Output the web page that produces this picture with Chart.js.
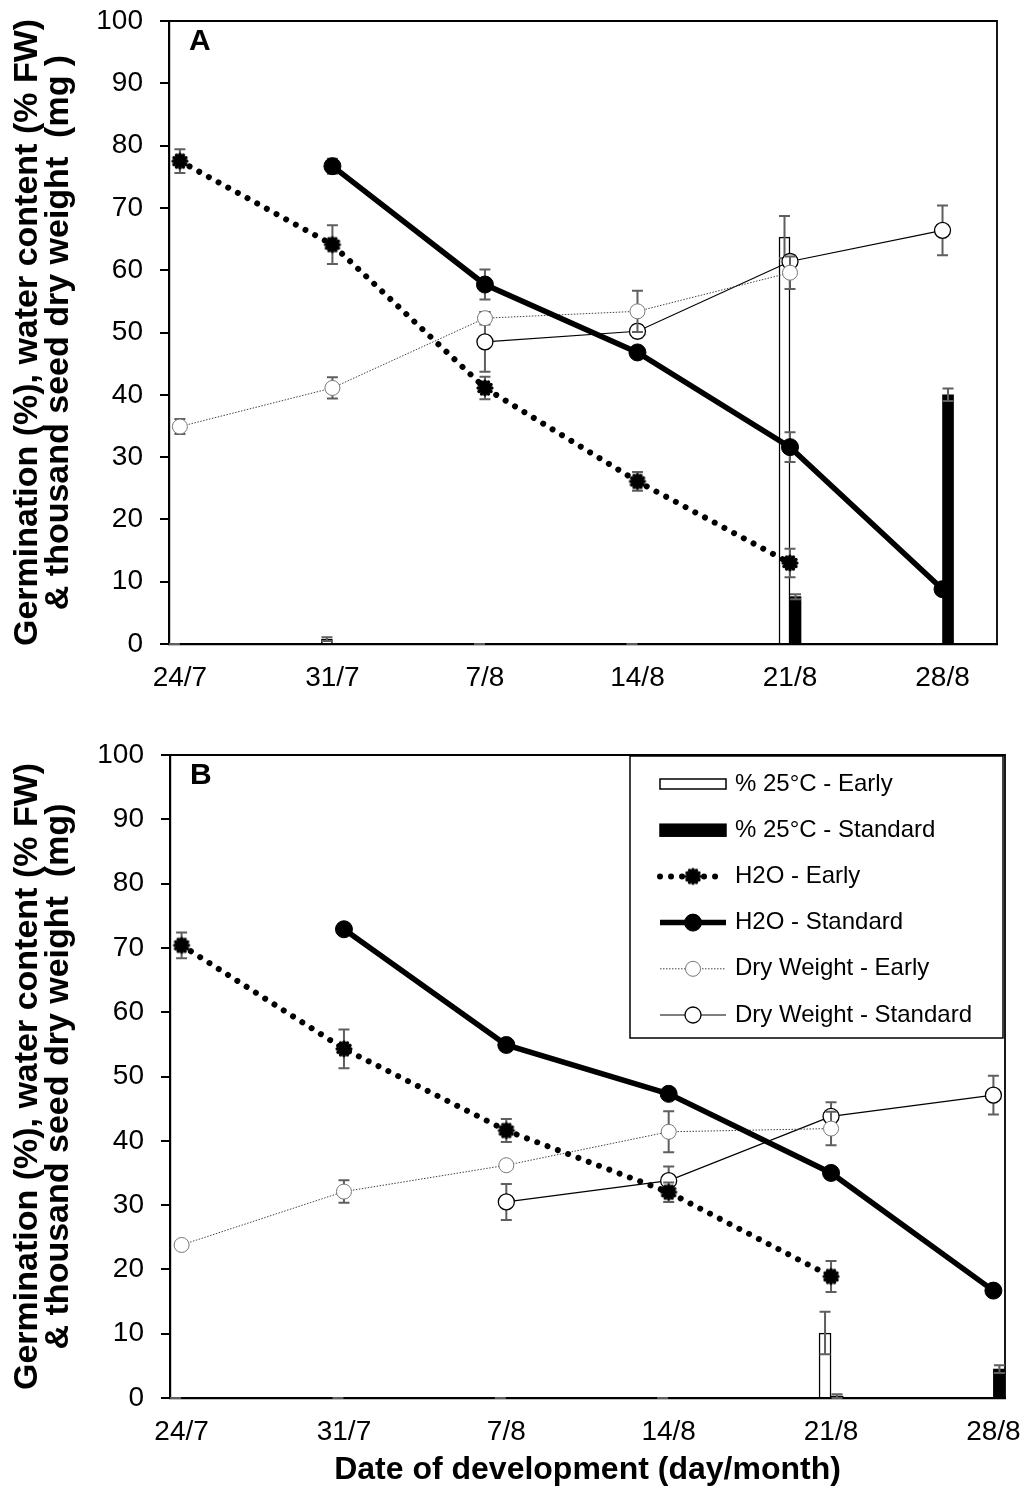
<!DOCTYPE html>
<html>
<head>
<meta charset="utf-8">
<script src="https://cdn.jsdelivr.net/npm/chart.js@4.4.1/dist/chart.umd.min.js"></script>
<style>
  html, body { margin: 0; padding: 0; background: #fff; }
  #wrap { position: relative; width: 1024px; height: 1497px; }
  canvas { position: absolute; left: 0; }
</style>
</head>
<body>
<div id="wrap">
  <canvas id="chartA" width="1024" height="700" style="top:0;width:1024px;height:700px"></canvas>
  <canvas id="chartB" width="1024" height="797" style="top:700px;width:1024px;height:797px"></canvas>
</div>
<script>
// Seed development panels A / B — germination bars, water content + dry weight lines, error bars
const dateLabels = ['24/7', '31/7', '7/8', '14/8', '21/8', '28/8']
const days = [0, 7, 14, 21, 28, 35]
const seriesNames = ['% 25°C - Early', '% 25°C - Standard', 'H2O - Early', 'H2O - Standard', 'Dry Weight - Early', 'Dry Weight - Standard']

// panel A
const germEarlyA = [0, 0.8, 0, 0, 65.3, null]
const germEarlyErrA = [0, 0.3, 0, 0, 3.4, null]
const germStdA = [null, null, null, null, 7.6, 40.0]
const germStdErrA = [null, null, null, null, 0.4, 1.0]
const h2oEarlyA = [77.5, 64.1, 41.1, 26.1, 13.0, null]
const h2oEarlyErrA = [1.9, 3.1, 1.8, 1.5, 2.3, null]
const h2oStdA = [null, 76.7, 57.7, 46.8, 31.6, 8.8]
const h2oStdErrA = [null, 1.2, 2.4, 0.5, 2.4, 0.5]
const dwEarlyA = [34.9, 41.1, 52.3, 53.4, 59.6, null]
const dwEarlyErrA = [1.2, 1.7, 1.0, 3.3, 2.6, null]
const dwStdA = [null, null, 48.5, 50.2, 61.4, 66.4]
const dwStdErrA = [null, null, 4.8, 1.0, 1.0, 4.0]

// panel B
const germEarlyB = [0, 0, 0, 0, 10.1, null]
const germEarlyErrB = [0, 0, 0, 0, 3.3, null]
const germStdB = [null, null, null, null, 0.3, 4.5]
const germStdErrB = [null, null, null, null, 0.3, 0.6]
const h2oEarlyB = [70.4, 54.3, 41.6, 32.0, 18.9, null]
const h2oEarlyErrB = [2.0, 3.0, 1.8, 1.5, 2.4, null]
const h2oStdB = [null, 72.9, 54.9, 47.3, 35.0, 16.7]
const h2oStdErrB = [null, 0.6, 0.6, 0.6, 0.6, 0.6]
const dwEarlyB = [23.8, 32.1, 36.2, 41.4, 41.9, null]
const dwEarlyErrB = [0.3, 1.75, 0.4, 3.2, 2.6, null]
const dwStdB = [null, null, 30.5, 33.8, 43.8, 47.1]
const dwStdErrB = [null, null, 2.8, 2.2, 2.2, 3.0]

const FONT = '"Liberation Sans", Arial, sans-serif'
Chart.defaults.font.family = FONT
Chart.defaults.color = '#000'

// filled dot with a ragged (dotted) rim, like the Excel marker
function starDot(r) {
  const size = Math.ceil(r * 2 + 4)
  const c = document.createElement('canvas')
  c.width = size; c.height = size
  const g = c.getContext('2d')
  const m = size / 2
  g.fillStyle = '#000'
  g.beginPath(); g.arc(m, m, r - 1.5, 0, Math.PI * 2); g.fill()
  for (let k = 0; k < 12; k++) {
    const a = k * Math.PI / 6
    g.beginPath(); g.arc(m + Math.cos(a) * (r - 1.2), m + Math.sin(a) * (r - 1.2), 1.8, 0, Math.PI * 2); g.fill()
  }
  return c
}
const starMarker = starDot(8)

const pts = (vals) => vals.map((v, i) => ({ x: days[i], y: v }))

function drawErrors(chart, index) {
  const ds = chart.data.datasets[index]
  if (!ds.errors) return
  const meta = chart.getDatasetMeta(index)
  const y = chart.scales.y
  const { ctx } = chart
  ctx.save()
  ctx.strokeStyle = '#5f5f5f'
  ctx.lineWidth = 2
  meta.data.forEach((el, i) => {
    const v = ds.data[i].y, e = ds.errors[i]
    if (v == null || e == null) return
    const top = y.getPixelForValue(v + e)
    const bot = y.getPixelForValue(Math.max(0, v - e))
    ctx.beginPath()
    ctx.moveTo(el.x, top); ctx.lineTo(el.x, bot)
    ctx.moveTo(el.x - 5.5, top); ctx.lineTo(el.x + 5.5, top)
    ctx.moveTo(el.x - 5.5, bot); ctx.lineTo(el.x + 5.5, bot)
    ctx.stroke()
  })
  ctx.restore()
}

const errorBars = {
  id: 'errorBars',
  beforeDatasetDraw(chart, args) { if (chart.data.datasets[args.index].type === 'line') drawErrors(chart, args.index) },
  afterDatasetDraw(chart, args) { if (chart.data.datasets[args.index].type === 'bar') drawErrors(chart, args.index) },
}

const frameAndLetter = {
  id: 'frameAndLetter',
  beforeDatasetsDraw(chart) {
    const { ctx, chartArea: a } = chart
    ctx.save()
    ctx.strokeStyle = '#000'
    ctx.lineWidth = 1.8
    ctx.beginPath()
    ctx.moveTo(a.left, a.top); ctx.lineTo(a.right, a.top); ctx.lineTo(a.right, a.bottom)
    ctx.stroke()
    ctx.restore()
  },
  afterDraw(chart, args, opts) {
    const { ctx, chartArea: a } = chart
    ctx.save()
    ctx.font = 'bold 30px ' + FONT
    ctx.fillStyle = '#000'
    ctx.textBaseline = 'middle'
    ctx.fillText(opts.letter, a.left + 20, a.top + 21)
    ctx.restore()
  },
}

const boxLegend = {
  id: 'boxLegend',
  afterDraw(chart, args, o) {
    if (!o.show) return
    const { ctx } = chart
    const [l, t, r, b] = o.box
    ctx.save()
    ctx.fillStyle = '#fff'
    ctx.fillRect(l, t, r - l, b - t)
    ctx.strokeStyle = '#000'
    ctx.lineWidth = 1.5
    ctx.strokeRect(l, t, r - l, b - t)
    const [x0, x1] = o.symX
    const xm = (x0 + x1) / 2
    chart.data.datasets.forEach((ds, i) => {
      const yy = o.rowY + i * o.rowGap
      if (ds.type === 'bar') {
        const h = ds.backgroundColor === '#000' ? 12 : 10
        ctx.fillStyle = ds.backgroundColor
        ctx.fillRect(x0, yy - h / 2, x1 - x0, h)
        ctx.strokeStyle = '#000'
        ctx.lineWidth = 1.5
        ctx.strokeRect(x0, yy - h / 2, x1 - x0, h)
      } else {
        ctx.save()
        ctx.strokeStyle = ds.borderColor
        ctx.lineWidth = ds.borderWidth
        ctx.lineCap = ds.borderCapStyle || 'butt'
        ctx.setLineDash(ds.borderDash || [])
        ctx.beginPath(); ctx.moveTo(x0, yy); ctx.lineTo(x1, yy); ctx.stroke()
        ctx.restore()
        ctx.fillStyle = ds.pointBackgroundColor
        ctx.strokeStyle = ds.pointBorderColor
        ctx.lineWidth = ds.pointBorderWidth
        Chart.helpers.drawPoint(ctx, { pointStyle: ds.pointStyle, radius: ds.pointRadius, rotation: 0, borderWidth: ds.pointBorderWidth }, xm, yy)
      }
      ctx.fillStyle = '#000'
      ctx.font = '24px ' + FONT
      ctx.textBaseline = 'middle'
      ctx.fillText(ds.label, o.textX, yy)
    })
    ctx.restore()
  },
}

function makeChart(id, s, g) {
  const datasets = [
    { type: 'bar', label: seriesNames[0], data: pts(s.germEarly), errors: s.germEarlyErr,
      backgroundColor: '#fff', borderColor: '#000', borderWidth: 1.5, barThickness: g.bar, order: 2 },
    { type: 'bar', label: seriesNames[1], data: pts(s.germStd), errors: s.germStdErr,
      backgroundColor: '#000', borderColor: '#000', borderWidth: 0, barThickness: g.bar, order: 2 },
    { type: 'line', label: seriesNames[2], data: pts(s.h2oEarly), errors: s.h2oEarlyErr,
      borderColor: '#000', borderWidth: 6, borderDash: [0.01, 11], borderCapStyle: 'round',
      pointStyle: starMarker, pointRadius: 8, pointBackgroundColor: '#000', pointBorderColor: '#000', pointBorderWidth: 0, order: 1 },
    { type: 'line', label: seriesNames[3], data: pts(s.h2oStd), errors: s.h2oStdErr,
      borderColor: '#000', borderWidth: 5.5, pointStyle: 'circle', pointRadius: 8.5,
      pointBackgroundColor: '#000', pointBorderColor: '#000', pointBorderWidth: 1, order: 1 },
    { type: 'line', label: seriesNames[4], data: pts(s.dwEarly), errors: s.dwEarlyErr,
      borderColor: '#444', borderWidth: 1, borderDash: [1.5, 1.5], pointStyle: 'circle', pointRadius: 7.5,
      pointBackgroundColor: '#fff', pointBorderColor: '#777', pointBorderWidth: 1, order: 1 },
    { type: 'line', label: seriesNames[5], data: pts(s.dwStd), errors: s.dwStdErr,
      borderColor: '#000', borderWidth: 1.2, pointStyle: 'circle', pointRadius: 8,
      pointBackgroundColor: '#fff', pointBorderColor: '#000', pointBorderWidth: 1.3, order: 1 },
  ]
  datasets.forEach((d) => { if (d.type === 'line') { d.fill = false; d.tension = 0 } })

  return new Chart(document.getElementById(id), {
    type: 'bar',
    data: { datasets },
    plugins: [errorBars, frameAndLetter, boxLegend],
    options: {
      responsive: false,
      animation: false,
      layout: { padding: { top: g.top, right: g.right, left: 0, bottom: 0 } },
      plugins: {
        legend: { display: false },
        tooltip: { enabled: false },
        frameAndLetter: { letter: g.letter },
        boxLegend: g.legend || { show: false },
      },
      scales: {
        x: {
          type: 'linear', min: -0.5, max: g.xMax, offset: false,
          grid: { display: false, drawTicks: false, offset: false },
          border: { display: true, color: '#000', width: 2.2 },
          afterBuildTicks: (sc) => { sc.ticks = days.map((v) => ({ value: v })) },
          afterFit: (sc) => { sc.height = g.xHeight; sc.paddingLeft = 0; sc.paddingRight = 0 },
          ticks: {
            autoSkip: false, maxRotation: 0, padding: 17, font: { size: 28 },
            callback: (v) => dateLabels[days.indexOf(v)] ?? '',
          },
          title: g.xTitle
            ? { display: true, text: g.xTitle, font: { size: 32, weight: 'bold' }, padding: { top: 0, bottom: 8 } }
            : { display: false },
        },
        y: {
          min: 0, max: 100,
          grid: { drawOnChartArea: false, drawTicks: true, tickLength: 9, color: '#000', lineWidth: 2 },
          border: { display: true, color: '#000', width: 2.2 },
          afterFit: (sc) => { sc.width = g.yWidth; sc.paddingTop = 0; sc.paddingBottom = 0 },
          ticks: { stepSize: 10, padding: 17, font: { size: 28 } },
          title: {
            display: true, text: g.yTitle,
            font: { size: 34, weight: 'bold', lineHeight: '31px' }, padding: { top: 12, bottom: 0 },
          },
        },
      },
    },
  })
}

makeChart('chartA', {
  germEarly: germEarlyA, germEarlyErr: germEarlyErrA, germStd: germStdA, germStdErr: germStdErrA,
  h2oEarly: h2oEarlyA, h2oEarlyErr: h2oEarlyErrA, h2oStd: h2oStdA, h2oStdErr: h2oStdErrA,
  dwEarly: dwEarlyA, dwEarlyErr: dwEarlyErrA, dwStd: dwStdA, dwStdErr: dwStdErrA,
}, {
  letter: 'A', top: 21, right: 27, yWidth: 169, xHeight: 56, xMax: 37.5, bar: 11,
  yTitle: ['Germination (%), water content (% FW)', '& thousand seed dry weight  (mg )'],
})

makeChart('chartB', {
  germEarly: germEarlyB, germEarlyErr: germEarlyErrB, germStd: germStdB, germStdErr: germStdErrB,
  h2oEarly: h2oEarlyB, h2oEarlyErr: h2oEarlyErrB, h2oStd: h2oStdB, h2oStdErr: h2oStdErrB,
  dwEarly: dwEarlyB, dwEarlyErr: dwEarlyErrB, dwStd: dwStdB, dwStdErr: dwStdErrB,
}, {
  letter: 'B', top: 55, right: 19, yWidth: 170, xHeight: 99, xMax: 35.5, bar: 12,
  yTitle: ['Germination (%), water content (% FW)', '& thousand seed dry weight  (mg)'],
  xTitle: 'Date of development (day/month)',
  legend: { show: true, box: [630, 56, 1003, 338], rowY: 84, rowGap: 46.2, symX: [660, 726], textX: 735 },
})
</script>
</body>
</html>
